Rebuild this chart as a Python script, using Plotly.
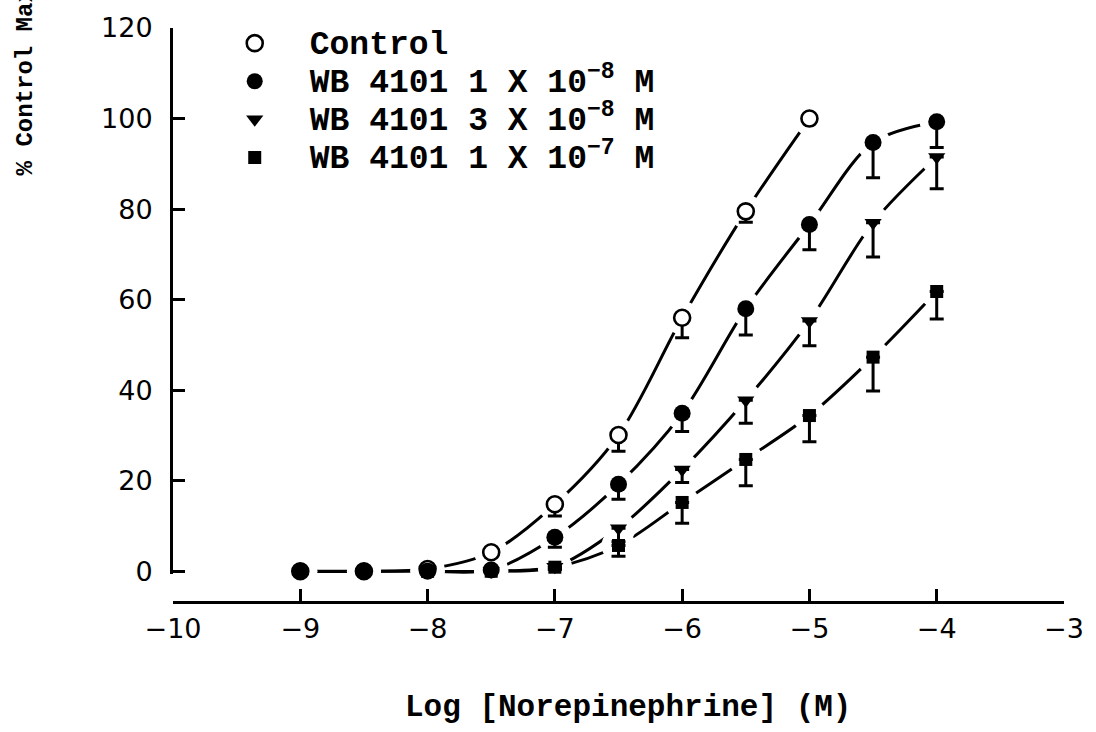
import plotly.graph_objects as go

# ---------------- data ----------------
log_conc_control = [-9, -8.5, -8, -7.5, -7, -6.5, -6, -5.5, -5]
resp_control = [0, 0, 0.5, 4.2, 14.8, 30.1, 56.0, 79.5, 100.0]
sem_control = [0, 0, 0, 1.0, 2.6, 3.6, 4.4, 2.4, 0]

log_conc_wb1e8 = [-9, -8.5, -8, -7.5, -7, -6.5, -6, -5.5, -5, -4.5, -4]
resp_wb1e8 = [0, 0, 0, 0.3, 7.5, 19.2, 34.9, 58.0, 76.6, 94.7, 99.3]
sem_wb1e8 = [0, 0, 0, 0, 2.2, 3.3, 4.0, 5.8, 5.6, 7.8, 5.7]

log_conc_wb3e8 = [-8, -7.5, -7, -6.5, -6, -5.5, -5, -4.5, -4]
resp_wb3e8 = [0, 0, 1.0, 9.5, 22.5, 37.8, 55.3, 77.0, 91.5]
sem_wb3e8 = [0, 0, 0.5, 3.0, 2.9, 5.1, 5.5, 7.6, 7.0]

log_conc_wb1e7 = [-8, -7.5, -7, -6.5, -6, -5.5, -5, -4.5, -4]
resp_wb1e7 = [0, 0, 0.9, 5.7, 15.2, 24.7, 34.4, 47.3, 61.8]
sem_wb1e7 = [0, 0, 0.5, 2.4, 4.6, 5.8, 5.8, 7.5, 6.1]

series_labels = [
    "Control",
    "WB 4101 1 X 10<sup>−8</sup> M",
    "WB 4101 3 X 10<sup>−8</sup> M",
    "WB 4101 1 X 10<sup>−7</sup> M",
]
x_ticks = [-10, -9, -8, -7, -6, -5, -4, -3]
y_ticks = [0, 20, 40, 60, 80, 100, 120]
x_title = "Log [Norepinephrine] (M)"
y_title = "% Control Maximum"

MONO = "Liberation Mono, Courier New, monospace"
SANS = "DejaVu Sans, Arial, sans-serif"

series = [
    (log_conc_control, resp_control, sem_control, dict(symbol="circle", size=16, color="white", line=dict(color="black", width=2.6))),
    (log_conc_wb1e8, resp_wb1e8, sem_wb1e8, dict(symbol="circle", size=17, color="black", line=dict(width=0))),
    (log_conc_wb3e8, resp_wb3e8, sem_wb3e8, dict(symbol="triangle-down", size=15, color="black", line=dict(width=0))),
    (log_conc_wb1e7, resp_wb1e7, sem_wb1e7, dict(symbol="square", size=13, color="black", line=dict(width=0))),
]

fig = go.Figure()

# fitted curves (smooth lines)
for xs, ys, es, mk in series:
    fig.add_trace(go.Scatter(x=xs, y=ys, mode="lines",
                             line=dict(color="black", width=3, shape="spline", smoothing=0.9),
                             showlegend=False, hoverinfo="skip", cliponaxis=False))

# white halos around the points (gaps in the curves)
for xs, ys, es, mk in series:
    fig.add_trace(go.Scatter(x=xs, y=ys, mode="markers",
                             marker=dict(symbol="circle", size=34, color="white", line=dict(width=0)),
                             showlegend=False, hoverinfo="skip", cliponaxis=False))

# points with downward SEM bars
for (xs, ys, es, mk), label in zip(series, series_labels):
    fig.add_trace(go.Scatter(
        x=xs, y=ys, mode="markers",
        name='<span style="font-size:33px">' + label + "</span>",
        marker=mk,
        error_y=dict(type="data", symmetric=False,
                     array=[0] * len(es), arrayminus=es,
                     color="black", thickness=3, width=7),
        cliponaxis=False))

fig.add_annotation(text=x_title, xref="paper", yref="paper", x=0.511, y=-0.183,
                   xanchor="center", yanchor="middle", showarrow=False,
                   font=dict(family=MONO, size=31, color="black", weight="bold"))
fig.add_annotation(text=y_title, xref="paper", yref="paper", x=-0.166, y=0.739,
                   xanchor="center", yanchor="bottom", textangle=-90, showarrow=False,
                   font=dict(family=MONO, size=24, color="black", weight="bold"))

fig.update_layout(
    width=1096, height=732,
    margin=dict(l=173, r=27, t=23, b=130),
    paper_bgcolor="white", plot_bgcolor="white",
    showlegend=True,
    legend=dict(x=0.03, y=1.0155, xanchor="left", yanchor="top",
                bgcolor="rgba(0,0,0,0)", borderwidth=0,
                font=dict(family=MONO, size=27, color="black", weight="bold"),
                itemwidth=100, tracegroupgap=0, itemsizing="trace"),
    xaxis=dict(range=[-10, -3], tickvals=x_ticks, anchor="free", position=0,
               showline=True, linewidth=3, linecolor="black", mirror=False,
               ticks="inside", ticklen=12, tickwidth=3, tickcolor="black",
               showgrid=False, zeroline=False, ticklabelstandoff=2,
               tickfont=dict(family=SANS, size=27, color="black")),
    yaxis=dict(range=[-0.7, 120], tickvals=y_ticks, domain=[0.048, 1],
               showline=True, linewidth=3, linecolor="black",
               ticks="inside", ticklen=12, tickwidth=3, tickcolor="black",
               showgrid=False, zeroline=False, ticklabelstandoff=12,
               tickfont=dict(family=SANS, size=27, color="black")),
)

fig.write_html("out.html")
